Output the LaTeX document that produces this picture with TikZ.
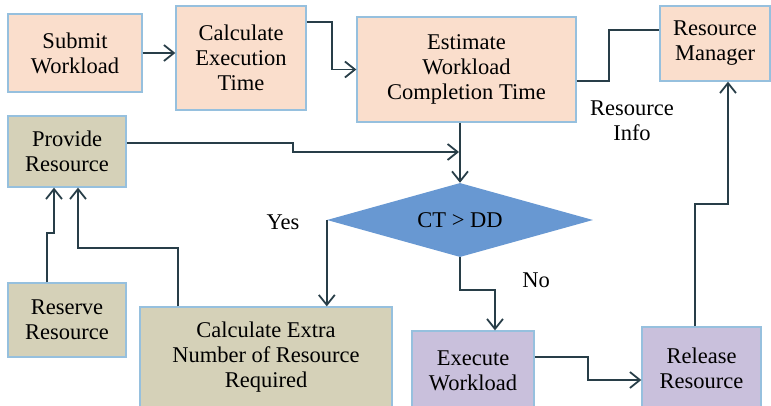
\documentclass[tikz,border=0pt]{standalone}
\usepackage{fontspec}
\setmainfont{Liberation Serif}
\usetikzlibrary{shapes.geometric,arrows.meta}
\definecolor{peach}{RGB}{250,222,204}
\definecolor{olive}{RGB}{213,209,184}
\definecolor{lilac}{RGB}{201,192,220}
\definecolor{decblue}{RGB}{104,152,210}
\definecolor{boxline}{RGB}{150,192,222}
\definecolor{arrowline}{RGB}{40,62,72}
\tikzset{
  box/.style={draw=boxline, line width=1.3pt, align=center, inner sep=0pt,
    font=\fontsize{22.5}{25}\selectfont},
  peachbox/.style={box, fill=peach},
  olivebox/.style={box, fill=olive},
  lilacbox/.style={box, fill=lilac},
  decision/.style={diamond, fill=decblue, inner sep=0pt, aspect=3.6,
    font=\fontsize{22.5}{25}\selectfont},
  flow/.style={draw=arrowline, line width=1.8pt, -{Straight Barb[length=10pt,width=16pt]}},
  link/.style={draw=arrowline, line width=1.8pt},
  label/.style={align=center, inner sep=0pt, font=\fontsize{22.5}{25}\selectfont}
}
\begin{document}
\begin{tikzpicture}[x=1pt,y=1pt,yscale=-1,xscale=1]
\useasboundingbox (0,0) rectangle (771,406);

% Boxes
\node[peachbox, minimum width=134pt, minimum height=78pt] (submit) at (75,53) {Submit\\Workload};
\node[peachbox, minimum width=130pt, minimum height=104pt] (calcexec) at (241,58) {Calculate\\Execution\\Time};
\node[peachbox, minimum width=219pt, minimum height=105pt] (estimate) at (466.5,69.5) {Estimate\\Workload\\Completion Time};
\node[peachbox, minimum width=110pt, minimum height=75pt] (manager) at (715,43.5) {Resource\\Manager};
\node[olivebox, minimum width=118pt, minimum height=71pt] (provide) at (67,151.5) {Provide\\Resource};
\node[olivebox, minimum width=118pt, minimum height=74pt] (reserve) at (67,320) {Reserve\\Resource};
\node[olivebox, minimum width=252pt, minimum height=101pt] (extra) at (266,357.5) {Calculate Extra\\Number of Resource\\Required};
\node[lilacbox, minimum width=122pt, minimum height=79pt] (execute) at (473,370.5) {Execute\\Workload};
\node[lilacbox, minimum width=119pt, minimum height=83pt] (release) at (701.5,368.5) {Release\\Resource};

% Decision
\node[decision, minimum width=266pt, minimum height=74pt] (check) at (460,220) {CT > DD};

% Connectors
\draw[flow] (submit.east) -- (submit.east -| calcexec.west);
\draw[flow] (calcexec.east |- 0,22) -| (332,70) |- (estimate.west);
\draw[link] (estimate.east |- 0,81) -| (609,30) -- (manager.west |- 0,30);
\draw[flow] (estimate.south -| check.north) -- (check.north);
\draw[flow] (provide.east |- 0,143) -| (293,152) -- ([xshift=-1pt]check.north |- 0,152);
\draw[flow] (check.west) -- (check.west |- extra.north);
\draw[flow] (178,0 |- extra.north) |- (78,248) -- (provide.south -| 78,0);
\draw[flow] (reserve.north -| 47,0) |- (54,233) -- (provide.south -| 54,0);
\draw[flow] (check.south) |- (495,290) -- (execute.north -| 495,0);
\draw[flow] (execute.east |- 0,357) -| (588,380) -- (release.west |- 0,380);
\draw[flow] (release.north -| 695,0) |- (728,204) -- (manager.south -| 728,0);

% Text Node
\node[label] (info) at (632,121) {Resource\\Info};
% Text Node
\node[label] (yes) at (283,222) {Yes};
% Text Node
\node[label] (no) at (536,280) {No};
\end{tikzpicture}
\end{document}
